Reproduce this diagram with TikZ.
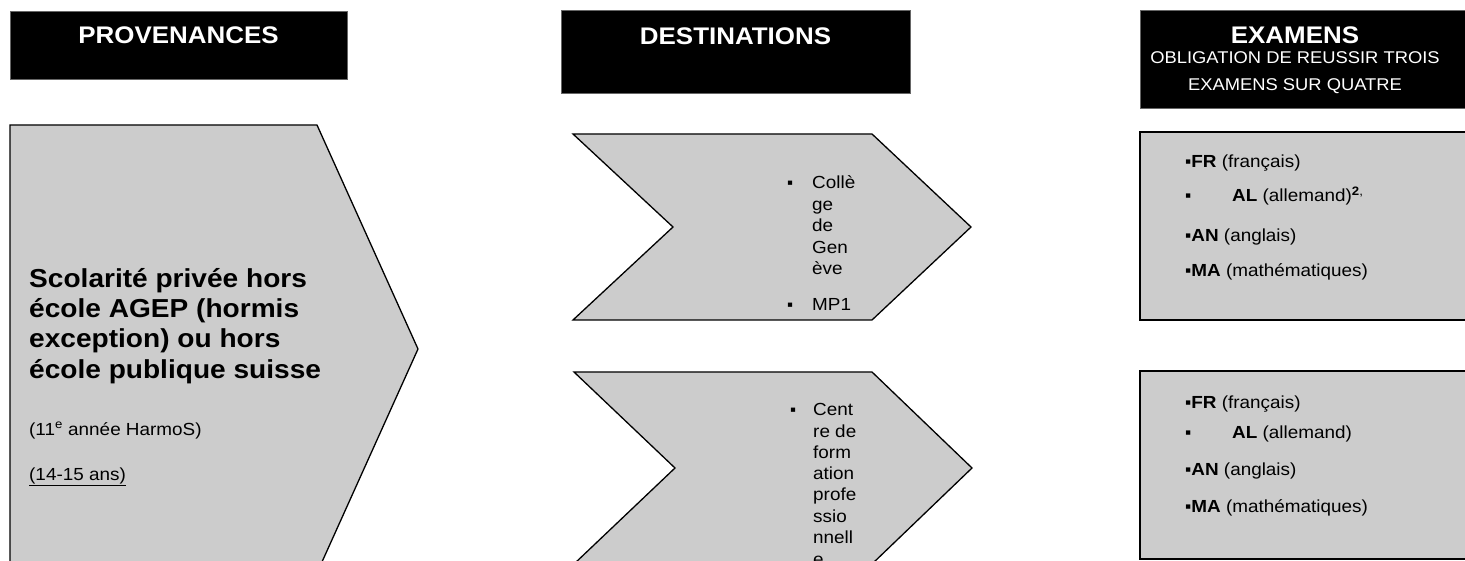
\documentclass[tikz,border=0pt]{standalone}
\usepackage{fontspec}
\setmainfont[FakeStretch=1.08]{Liberation Sans}
\newfontfamily\bulfont{Liberation Sans}
\definecolor{boxgray}{RGB}{204,204,204}
\newcommand\setfs[1]{\fontsize{#1}{#1}\selectfont}
\tikzset{
  hdrbox/.style={fill=black, draw=black!60, line width=0.6pt},
  shp/.style={fill=boxgray, draw=black, line width=1.3pt, line join=miter},
  txt/.style={inner sep=0pt, anchor=base west},
  htxt/.style={inner sep=0pt, anchor=base, text=white},
  chev/.style={txt, font=\setfs{17.5}},
  exm/.style={txt, font=\setfs{17.5}},
  bulc/.style={txt, font=\bulfont\setfs{17}},
}
\begin{document}
\begin{tikzpicture}[x=1pt,y=-1pt]
\useasboundingbox (0,0) rectangle (1465,561);
\clip (0,0) rectangle (1465,561);
% header boxes
\draw[hdrbox] (10,11) rectangle (347,79);
\draw[hdrbox] (561,10) rectangle (910,93);
\draw[hdrbox] (1140,10) rectangle (1470,108);
\node[htxt] (hprov) at (178.5,44) {\setfs{24}\bfseries PROVENANCES};
\node[htxt] (hdest) at (735.5,45) {\setfs{24}\bfseries DESTINATIONS};
\node[htxt] (hexa) at (1295,44) {\setfs{24}\bfseries EXAMENS};
\node[htxt] (hexb) at (1295,64) {\setfs{17}OBLIGATION DE REUSSIR TROIS};
\node[htxt] (hexc) at (1295,91) {\setfs{17}EXAMENS SUR QUATRE};
% provenance shape
\draw[shp] (10,125) -- (317,125) -- (418,349) -- (317,573) -- (10,573) -- cycle;
\node[txt] (p1) at (29,288) {\setfs{26}\bfseries Scolarité privée hors};
\node[txt] (p2) at (29,318) {\setfs{26}\bfseries école AGEP (hormis};
\node[txt] (p3) at (29,348) {\setfs{26}\bfseries exception) ou hors};
\node[txt] (p4) at (29,378) {\setfs{26}\bfseries école publique suisse};
\node[txt] (p5) at (29,435) {\setfs{17.5}(11\textsuperscript{e} année HarmoS)};
\node[txt] (p6) at (29,480) {\setfs{17.5}\underline{(14-15 ans)}};
% destination chevrons
\draw[shp] (573,134) -- (872,134) -- (971,227) -- (872,320) -- (573,320) -- (673,227) -- cycle;
\draw[shp] (574,372) -- (872,372) -- (972,468) -- (872,564) -- (574,564) -- (675,468) -- cycle;
\node[bulc] (b1) at (787,189) {▪};
\node[chev] (c1) at (812,189) {Collè};
\node[chev] (c2) at (812,211) {ge};
\node[chev] (c3) at (812,232) {de};
\node[chev] (c4) at (812,254) {Gen};
\node[chev] (c5) at (812,275) {ève};
\node[bulc] (b2) at (787,311) {▪};
\node[chev] (c6) at (812,311) {MP1};
\node[bulc] (b3) at (790,415) {▪};
\node[chev] (d1) at (813,415) {Cent};
\node[chev] (d2) at (813,437) {re de};
\node[chev] (d3) at (813,458) {form};
\node[chev] (d4) at (813,479) {ation};
\node[chev] (d5) at (813,500) {profe};
\node[chev] (d6) at (813,522) {ssio};
\node[chev] (d7) at (813,543) {nnell};
\node[chev] (d8) at (813,565) {e};
% exam boxes
\draw[shp] (1140,132) rectangle (1470,320);
\draw[shp] (1140,371) rectangle (1470,559);
\node[exm] (e1) at (1185,168) {{\bulfont ▪}\textbf{FR} (français)};
\node[exm] (e2b) at (1185,202) {\bulfont ▪};
\node[exm] (e2) at (1232,202) {\textbf{AL} (allemand)\textsuperscript{\textbf{2},}};
\node[exm] (e3) at (1185,242) {{\bulfont ▪}\textbf{AN} (anglais)};
\node[exm] (e4) at (1185,277) {{\bulfont ▪}\textbf{MA} (mathématiques)};
\node[exm] (f1) at (1185,408) {{\bulfont ▪}\textbf{FR} (français)};
\node[exm] (f2b) at (1185,438) {\bulfont ▪};
\node[exm] (f2) at (1232,438) {\textbf{AL} (allemand)};
\node[exm] (f3) at (1185,475) {{\bulfont ▪}\textbf{AN} (anglais)};
\node[exm] (f4) at (1185,512) {{\bulfont ▪}\textbf{MA} (mathématiques)};
\end{tikzpicture}
\end{document}
